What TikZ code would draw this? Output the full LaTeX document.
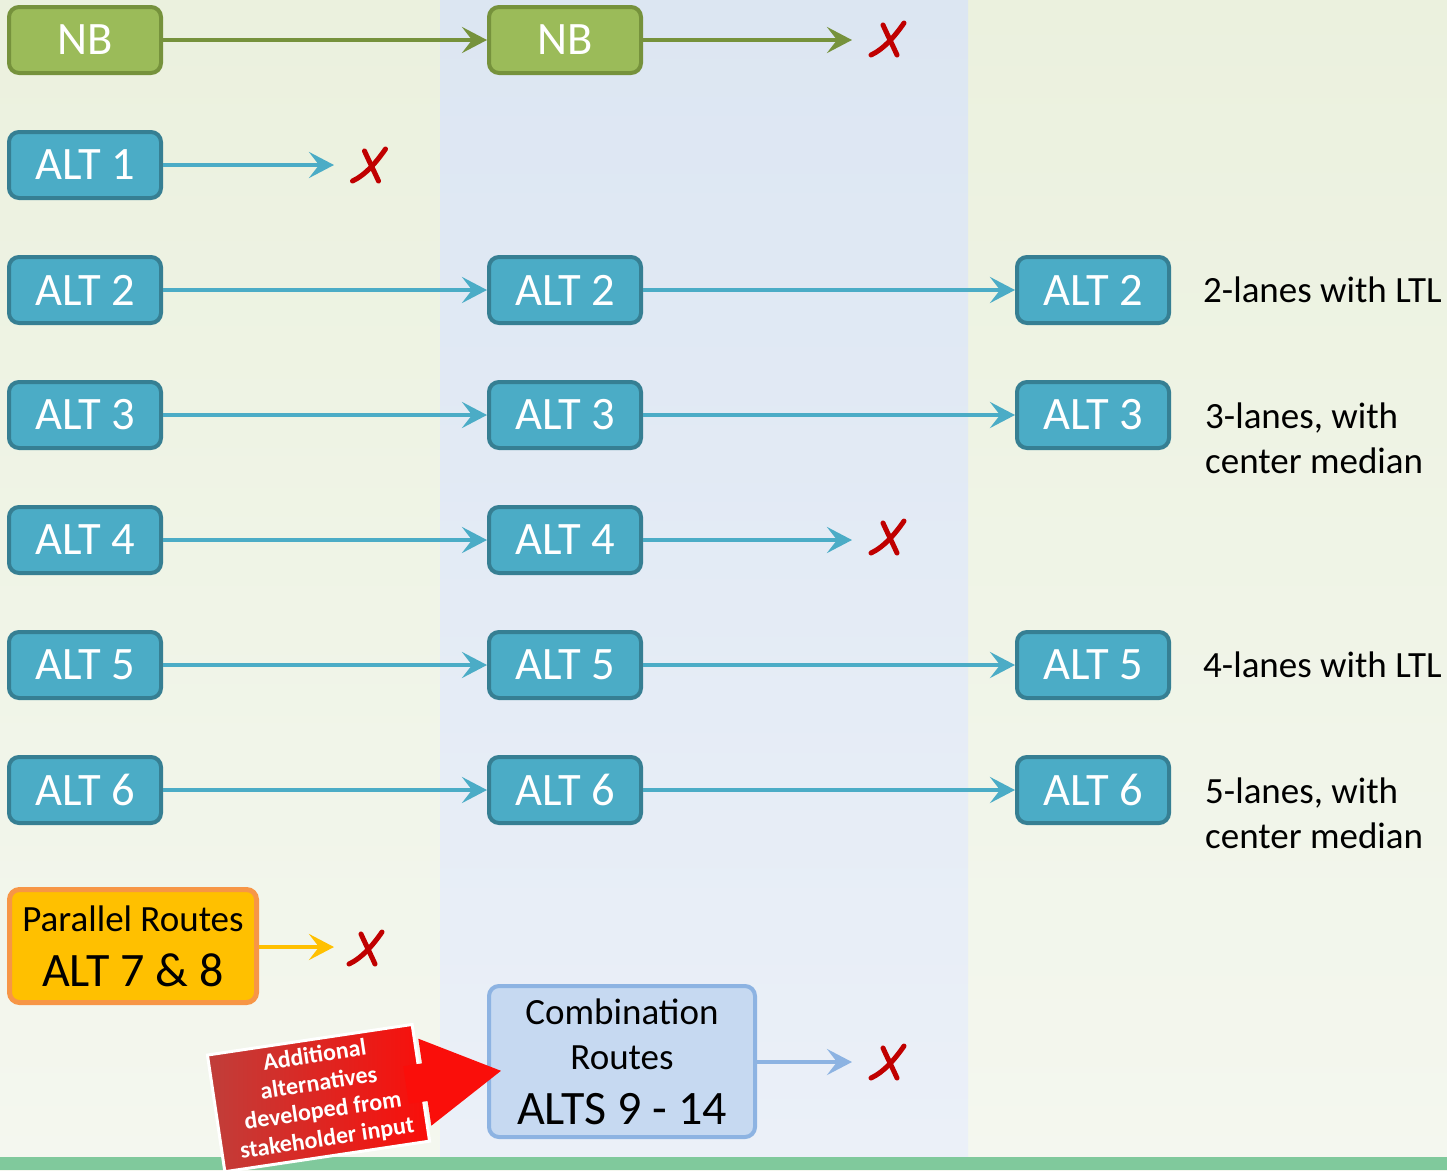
\documentclass[tikz,border=0pt]{standalone}
\usepackage{fontspec}
\setmainfont{Carlito}
\usetikzlibrary{arrows.meta}
\definecolor{bluefill}{HTML}{4BACC6}
\definecolor{blueedge}{HTML}{367F93}
\definecolor{greenfill}{HTML}{9BBB59}
\definecolor{greenedge}{HTML}{76923C}
\definecolor{yelfill}{HTML}{FFC000}
\definecolor{yeledge}{HTML}{F79646}
\definecolor{combfill}{HTML}{C6D9F1}
\definecolor{combedge}{HTML}{8DB3E2}
\definecolor{xred}{HTML}{C00000}
\definecolor{sideTop}{HTML}{EBF1DE}
\definecolor{sideBot}{HTML}{F4F7EF}
\definecolor{midTop}{HTML}{DCE6F2}
\definecolor{midBot}{HTML}{EBF0F8}
\definecolor{stripgreen}{HTML}{80C99C}
\definecolor{redA}{RGB}{192,62,58}
\definecolor{redB}{RGB}{250,14,10}
\begin{document}
\begin{tikzpicture}[x=1pt,y=-1pt,
  box/.style={rounded corners=10pt, line width=4pt, minimum width=152pt, minimum height=66pt, inner sep=0pt, text=white, font=\fontsize{46.5}{55}\selectfont},
  altbox/.style={box, fill=bluefill, draw=blueedge},
  nbbox/.style={box, fill=greenfill, draw=greenedge},
  flow/.style={line width=4pt, -{Stealth[length=25pt,width=26pt,inset=10pt]}},
  desc/.style={anchor=west, align=left, font=\fontsize{37}{45}\selectfont, inner sep=0pt},
  xstroke/.style={draw=xred, line width=5pt, line cap=round},
  xmk/.pic={\draw[xstroke] (-4,-14) .. controls (1,-3) and (5,5) .. (10,16);
            \draw[xstroke] (17,-16) .. controls (8,-3) and (-3,10) .. (-16,16);}
]
\useasboundingbox (0,0) rectangle (1447,1170);
% background
\shade[top color=sideTop, bottom color=sideBot] (0,0) rectangle (1447,1170);
\shade[top color=midTop, bottom color=midBot] (440,0) rectangle (968,1157);
\fill[stripgreen] (0,1157) rectangle (1447,1170);

% NB row
\node[nbbox] (nb1) at (85,40) {NB};
\node[nbbox] (nb2) at (565,40) {NB};
\coordinate (enb) at (852,40);
\draw[flow, greenedge] (nb1) -- (nb2);
\draw[flow, greenedge] (nb2) -- (enb);
\pic at (887,39) {xmk};

% ALT 1
\node[altbox] (l1) at (85,165) {ALT 1};
\coordinate (e1) at (334,165);
\draw[flow, bluefill] (l1) -- (e1);
\pic at (368.5,165) {xmk};

% ALT 2..6
\foreach \i in {2,...,6}{
  \node[altbox] (l\i) at (85,{40+125*\i}) {ALT \i};
  \node[altbox] (m\i) at (565,{40+125*\i}) {ALT \i};
  \draw[flow, bluefill] (l\i) -- (m\i);
}
\foreach \i in {2,3,5,6}{
  \node[altbox] (r\i) at (1093,{40+125*\i}) {ALT \i};
  \draw[flow, bluefill] (m\i) -- (r\i);
}
\coordinate (e4) at (852,540);
\draw[flow, bluefill] (m4) -- (e4);
\pic at (887,537) {xmk};

% descriptions
\node[desc] (d2) at (1203,290) {2-lanes with LTL};
\node[desc] (d3) at (1205,438) {3-lanes, with\\center median};
\node[desc] (d5) at (1203,665) {4-lanes with LTL};
\node[desc] (d6) at (1205,813) {5-lanes, with\\center median};

% parallel routes
\node[box, fill=yelfill, draw=yeledge, line width=5pt, minimum width=247pt, minimum height=113pt, text=black, align=center, font=\fontsize{48}{55}\selectfont] (par) at (133,946)
  {\fontsize{37}{44}\selectfont Parallel Routes\\\fontsize{48}{55}\selectfont ALT 7 \& 8};
\coordinate (ep) at (334,947);
\draw[flow, yelfill] (par.east |- ep) -- (ep);
\pic at (365,948) {xmk};

% combination routes
\node[box, fill=combfill, draw=combedge, minimum width=266pt, minimum height=151pt, text=black, align=center, font=\fontsize{48}{55}\selectfont] (comb) at (622,1061.5)
  {\fontsize{37}{45}\selectfont Combination\\[-10pt]\fontsize{37}{45}\selectfont Routes\\\fontsize{48}{55}\selectfont ALTS 9 - 14};
\coordinate (ec) at (852,1062);
\draw[flow, combedge] (comb.east |- ec) -- (ec);
\pic at (887,1062) {xmk};

% red callout
\begin{scope}[shift={(319,1098)}, rotate=8.5]
  \shadedraw[left color=redA, right color=redB, draw=white, line width=3pt] (-104,-59) rectangle (103,59);
  \fill[redB] (88,-19) -- (107,-19) -- (107,-44) -- (184,0) -- (107,44) -- (107,19) -- (88,19) -- cycle;
  \node[transform shape, text=white, inner sep=0pt, align=center, font=\bfseries\fontsize{24}{28}\selectfont] (note) at (2,0)
    {Additional\\alternatives\\developed from\\stakeholder input};
\end{scope}
\end{tikzpicture}
\end{document}
